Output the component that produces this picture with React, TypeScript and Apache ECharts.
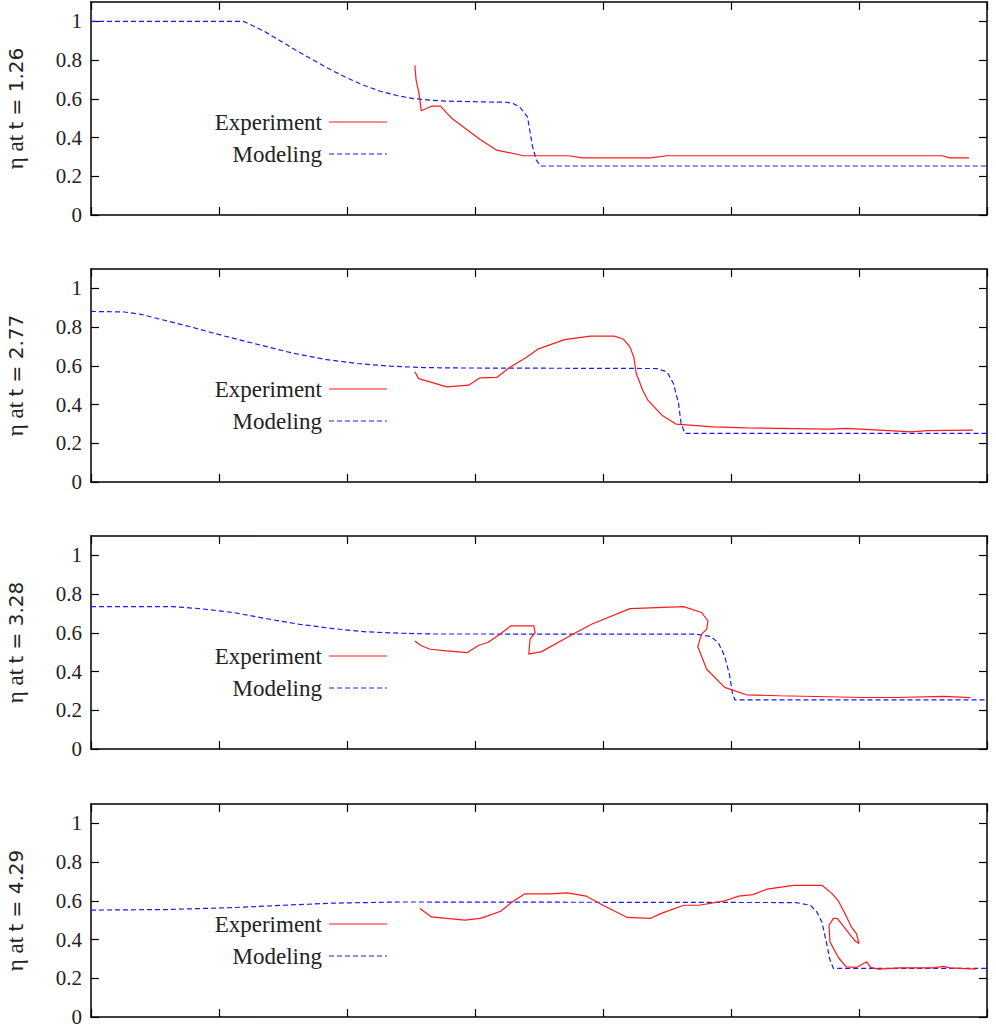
import React, { useEffect, useRef } from "react";
import * as echarts from "echarts";

// Panel labels (time)
const panelTimes = ["1.26", "2.77", "3.28", "4.29"];
const yTicks = [0, 0.2, 0.4, 0.6, 0.8, 1];

// Panel 1 (t = 1.26)
const model1: number[][] = [
  [0, 1], [1.19, 1], [1.24, 0.985], [1.35, 0.95], [1.48, 0.899], [1.61, 0.847], [1.74, 0.799],
  [1.87, 0.751], [2.0, 0.708], [2.13, 0.67], [2.26, 0.639], [2.39, 0.617], [2.52, 0.601],
  [2.65, 0.593], [2.78, 0.588], [3.0, 0.585], [3.25, 0.582], [3.3, 0.575], [3.35, 0.557],
  [3.41, 0.507], [3.45, 0.352], [3.48, 0.283], [3.51, 0.253], [7, 0.253],
];
const exp1: number[][] = [
  [2.53, 0.773], [2.54, 0.696], [2.56, 0.636], [2.57, 0.593], [2.58, 0.538], [2.66, 0.562],
  [2.73, 0.562], [2.82, 0.498], [3.04, 0.39], [3.17, 0.335], [3.38, 0.306], [3.73, 0.306],
  [3.84, 0.295], [4.37, 0.295], [4.5, 0.306], [6.65, 0.306], [6.71, 0.295], [6.86, 0.295],
];

// Panel 2 (t = 2.77)
const model2: number[][] = [
  [0, 0.881], [0.26, 0.878], [0.39, 0.866], [0.52, 0.844], [0.78, 0.801], [1.04, 0.754],
  [1.3, 0.711], [1.56, 0.668], [1.82, 0.634], [2.08, 0.612], [2.34, 0.598], [2.6, 0.591],
  [2.81, 0.589], [4.42, 0.586], [4.5, 0.569], [4.55, 0.509], [4.59, 0.406], [4.61, 0.302],
  [4.64, 0.251], [7, 0.251],
];
const exp2: number[][] = [
  [2.53, 0.569], [2.56, 0.534], [2.62, 0.522], [2.78, 0.491], [2.95, 0.5], [3.04, 0.538],
  [3.17, 0.54], [3.27, 0.591], [3.4, 0.643], [3.49, 0.686], [3.7, 0.735], [3.9, 0.753],
  [4.09, 0.753], [4.16, 0.737], [4.21, 0.698], [4.24, 0.646], [4.26, 0.56], [4.31, 0.474],
  [4.35, 0.423], [4.46, 0.345], [4.57, 0.299], [4.86, 0.285], [5.12, 0.28], [5.77, 0.273],
  [5.9, 0.277], [6.16, 0.268], [6.41, 0.259], [6.53, 0.265], [6.89, 0.268],
];

// Panel 3 (t = 3.28)
const model3: number[][] = [
  [0, 0.735], [0.64, 0.735], [0.85, 0.725], [1.11, 0.705], [1.37, 0.673], [1.63, 0.644],
  [1.89, 0.622], [2.15, 0.605], [2.41, 0.598], [2.67, 0.594], [4.73, 0.593], [4.84, 0.581],
  [4.9, 0.55], [4.95, 0.481], [4.99, 0.378], [5.01, 0.292], [5.03, 0.254], [7, 0.254],
];
const exp3: number[][] = [
  [2.53, 0.558], [2.58, 0.533], [2.65, 0.515], [2.78, 0.507], [2.94, 0.498], [3.03, 0.536],
  [3.1, 0.55], [3.2, 0.595], [3.28, 0.636], [3.46, 0.636], [3.47, 0.601], [3.43, 0.567],
  [3.42, 0.49], [3.52, 0.503], [3.74, 0.584], [3.91, 0.644], [4.21, 0.725], [4.63, 0.735],
  [4.77, 0.705], [4.82, 0.661], [4.81, 0.619], [4.77, 0.593], [4.74, 0.529], [4.81, 0.412],
  [4.95, 0.318], [5.12, 0.28], [5.38, 0.275], [6.03, 0.266], [6.29, 0.266], [6.66, 0.272],
  [6.87, 0.265],
];

// Panel 4 (t = 4.29)
const model4: number[][] = [
  [0, 0.552], [0.59, 0.555], [1.11, 0.565], [1.5, 0.577], [1.89, 0.588], [2.41, 0.594],
  [5.51, 0.591], [5.62, 0.577], [5.67, 0.543], [5.71, 0.491], [5.75, 0.371], [5.77, 0.302],
  [5.8, 0.251], [7, 0.251],
];
const exp4: number[][] = [
  [2.57, 0.56], [2.66, 0.517], [2.78, 0.509], [2.92, 0.5], [3.04, 0.509], [3.1, 0.522],
  [3.2, 0.546], [3.29, 0.594], [3.39, 0.636], [3.59, 0.636], [3.72, 0.641], [3.87, 0.624],
  [4.0, 0.577], [4.19, 0.514], [4.37, 0.509], [4.45, 0.534], [4.63, 0.577], [4.75, 0.577],
  [4.94, 0.598], [5.06, 0.624], [5.17, 0.632], [5.28, 0.66], [5.49, 0.68], [5.71, 0.68],
  [5.79, 0.637], [5.84, 0.598], [5.89, 0.534], [5.94, 0.466], [5.98, 0.431], [6.0, 0.38],
  [5.97, 0.392], [5.95, 0.409], [5.83, 0.509], [5.8, 0.509], [5.766, 0.474], [5.773, 0.388],
  [5.84, 0.306], [5.9, 0.259], [5.98, 0.256], [6.06, 0.285], [6.09, 0.256], [6.15, 0.247],
  [6.32, 0.254], [6.58, 0.254], [6.66, 0.261], [6.71, 0.254], [6.91, 0.247],
];

const modelSeries = [model1, model2, model3, model4];
const expSeries = [exp1, exp2, exp3, exp4];

const RED = "#ff1a1a";
const BLUE = "#1a1aff";
const SERIF = "'Liberation Serif', 'DejaVu Serif', serif";
const SANS = "'DejaVu Sans', sans-serif";

export default function App() {
  const ref = useRef<HTMLDivElement>(null);

  useEffect(() => {
    if (!ref.current) return;
    const chart = echarts.init(ref.current, undefined, { renderer: "svg" });

    const tops = [2, 269, 536, 804];
    const H = 213;
    const grids = tops.map((t) => ({
      left: 91,
      top: t,
      width: 896,
      height: H,
      show: false,
      containLabel: false,
      outerBoundsMode: "none",
    }));

    const axisLine = { show: true, onZero: false, lineStyle: { color: "#000", width: 1.5 } };
    const xAxes: any[] = [];
    const yAxes: any[] = [];
    const series: any[] = [];
    const graphics: any[] = [];

    tops.forEach((t, i) => {
      ["bottom", "top"].forEach((pos) => {
        xAxes.push({
          type: "value",
          gridIndex: i,
          position: pos,
          min: 0,
          max: 7,
          interval: 1,
          axisLine,
          axisTick: { show: true, inside: true, length: 8, lineStyle: { color: "#000", width: 1.2 } },
          axisLabel: { show: false },
          splitLine: { show: false },
        });
      });
      ["left", "right"].forEach((pos) => {
        yAxes.push({
          type: "value",
          gridIndex: i,
          position: pos,
          min: 0,
          max: 1.1,
          axisLine,
          axisTick: {
            show: true,
            inside: true,
            length: 8,
            customValues: yTicks,
            lineStyle: { color: "#000", width: 1.2 },
          },
          axisLabel: {
            show: pos === "left",
            customValues: yTicks,
            margin: 9,
            fontFamily: SERIF,
            fontSize: 21,
            color: "#222",
          },
          splitLine: { show: false },
          name: pos === "left" ? `{a|η at} {b|t = ${panelTimes[i]}}` : "",
          nameLocation: "middle",
          nameGap: 64,
          nameTextStyle: {
            color: "#222",
            fontFamily: SERIF,
            fontSize: 21,
            rich: {
              a: { fontFamily: SERIF, fontSize: 23, color: "#222" },
              b: { fontFamily: SANS, fontSize: 20, color: "#222" },
            },
          },
        });
      });

      series.push({
        name: "Experiment",
        type: "line",
        xAxisIndex: i * 2,
        yAxisIndex: i * 2,
        data: expSeries[i],
        showSymbol: false,
        lineStyle: { color: RED, width: 1.2 },
        itemStyle: { color: RED },
        z: 3,
      });
      series.push({
        name: "Modeling",
        type: "line",
        xAxisIndex: i * 2,
        yAxisIndex: i * 2,
        data: modelSeries[i],
        showSymbol: false,
        lineStyle: { color: BLUE, width: 1.2, type: [5, 3] },
        itemStyle: { color: BLUE },
        z: 2,
      });

      // Legend key
      const rows = [
        { label: "Experiment", y: t + 120, color: RED, dash: null as any },
        { label: "Modeling", y: t + 152, color: BLUE, dash: [5, 3] },
      ];
      rows.forEach((r) => {
        graphics.push({
          type: "text",
          x: 322,
          y: r.y,
          style: {
            text: r.label,
            align: "right",
            verticalAlign: "middle",
            fontFamily: SERIF,
            fontSize: 23,
            fill: "#222",
          },
        });
        graphics.push({
          type: "line",
          shape: { x1: 329, y1: r.y, x2: 387, y2: r.y },
          style: { stroke: r.color, lineWidth: 1.2, lineDash: r.dash || undefined },
        });
      });
    });

    chart.setOption({
      animation: false,
      backgroundColor: "#fff",
      grid: grids,
      xAxis: xAxes,
      yAxis: yAxes,
      series,
      graphic: graphics,
    });

    return () => chart.dispose();
  }, []);

  return (
    <div
      ref={ref}
      style={{ position: "absolute", left: 0, top: 0, width: 996, height: 1029 }}
    />
  );
}
